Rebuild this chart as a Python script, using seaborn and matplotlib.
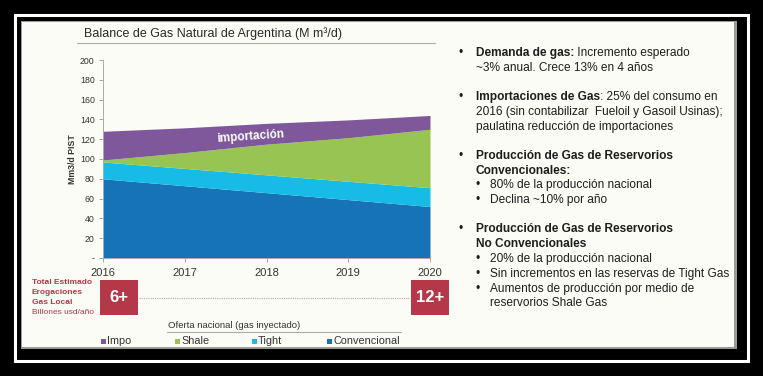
import numpy as np
import pandas as pd
import matplotlib
matplotlib.use("Agg")
import matplotlib.pyplot as plt
import seaborn as sns
from matplotlib.patches import Rectangle

# data (M m3/d)
years = [2016, 2017, 2018, 2019, 2020]
convencional = [80, 73, 66, 59, 52]
tight = [17, 17.5, 18, 18.5, 19]
shale = [2, 16, 31, 44, 59]
impo = [29, 25, 21, 18, 14]
series_names = ["Convencional", "Tight", "Shale", "Impo"]
series_colors = ["#1673b6", "#17bce6", "#98c454", "#7f589b"]
y_ticks = [0, 20, 40, 60, 80, 100, 120, 140, 160, 180, 200]
y_tick_labels = ["-", "20", "40", "60", "80", "100", "120", "140", "160", "180", "200"]

df = pd.DataFrame({"year": years, "Convencional": convencional, "Tight": tight,
                   "Shale": shale, "Impo": impo})

sns.set_style("white")
plt.rcParams["font.family"] = ["Liberation Sans", "DejaVu Sans"]

W, H = 763, 376
fig = plt.figure(figsize=(W / 100, H / 100), dpi=100)
fig.patch.set_facecolor("black")

def fx(x):
    return x / W

def fy(y):
    return 1 - y / H

# slide frame (kept behind the axes)
fig.add_artist(Rectangle((fx(15), fy(361)), fx(733), 346 / H, transform=fig.transFigure,
                         fill=False, edgecolor="white", lw=2.2, zorder=-10))
fig.add_artist(Rectangle((fx(21), fy(349)), fx(716), 328 / H, transform=fig.transFigure,
                         facecolor="#9a9a94", edgecolor="none", zorder=-10))
fig.add_artist(Rectangle((fx(22), fy(347)), fx(712), 325 / H, transform=fig.transFigure,
                         facecolor="#fbfcf6", edgecolor="none", zorder=-9))

# stacked area chart
ax = fig.add_axes([fx(103), fy(258), fx(430 - 103), (258 - 60) / H])
ax.set_facecolor("none")
ax.stackplot(df["year"], [df[c] for c in series_names], colors=series_colors, lw=0)
ax.set_xlim(2016, 2020)
ax.set_ylim(0, 200)
ax.set_xticks(years)
ax.set_xticklabels([str(y) for y in years], fontsize=8, color="#333333")
ax.set_yticks(y_ticks)
ax.set_yticklabels(y_tick_labels, fontsize=6.3, color="#333333")
ax.tick_params(axis="both", length=3, width=0.6, color="#999999", direction="out",
               left=True, bottom=True, pad=3)
ax.tick_params(axis="x", pad=4)
for s in ["top", "right"]:
    ax.spines[s].set_visible(False)
for s in ["left", "bottom"]:
    ax.spines[s].set_color("#aaaaaa")
    ax.spines[s].set_linewidth(0.7)
ax.set_ylabel("Mm3/d PIST", fontsize=6.3, fontweight="bold", color="#333333", labelpad=2)
ax.text(2017.8, 123, "importación", color="white", fontsize=8.5, fontweight="bold",
        rotation=4, ha="center", va="center")

# title with underline
fig.text(fx(84), fy(34), "Balance de Gas Natural de Argentina (M m³/d)", fontsize=9,
         color="#2a2a2a", va="center")
fig.add_artist(plt.Line2D([fx(77), fx(435)], [fy(43), fy(43)], color="#aaaaaa", lw=0.8))

# cost boxes
red = "#b53848"
for x0, lab in [(100, "6+"), (411, "12+")]:
    fig.add_artist(Rectangle((fx(x0), fy(315)), fx(38), 35 / H, transform=fig.transFigure,
                             facecolor=red, edgecolor="none"))
    fig.text(fx(x0 + 19), fy(297.5), lab, color="white", fontsize=12, fontweight="bold",
             ha="center", va="center")
fig.add_artist(plt.Line2D([fx(139), fx(410)], [fy(297.5), fy(297.5)], color="#c9a0a0",
                          lw=0.8, ls=(0, (1, 1))))
for i, (t, w) in enumerate([("Total Estimado", "bold"), ("Erogaciones", "bold"),
                            ("Gas Local", "bold"), ("Billones usd/año", "normal")]):
    fig.text(fx(32), fy(283 + 9.8 * i), t, color=red, fontsize=6, fontweight=w, va="center")

# legend
fig.text(fx(168), fy(325), "Oferta nacional (gas inyectado)", fontsize=6.8, color="#333333",
         va="center")
fig.add_artist(plt.Line2D([fx(167), fx(401)], [fy(332), fy(332)], color="#aaaaaa", lw=0.8))
for x0, name, col in [(101, "Impo", series_colors[3]), (175, "Shale", series_colors[2]),
                      (252, "Tight", series_colors[1]), (327, "Convencional", series_colors[0])]:
    fig.add_artist(Rectangle((fx(x0), fy(343.5)), fx(4.5), 4.5 / H, transform=fig.transFigure,
                             facecolor=col, edgecolor="none"))
    fig.text(fx(x0 + 6), fy(341.5), name, fontsize=7.8, color="#333333", va="center")

# bullet text on the right
fs = 8.6
col = "#1e1e1e"

def bullet(y, parts, x_b=458, x_t=476):
    fig.text(fx(x_b), fy(y), "•", fontsize=fs, color=col, va="center")
    x = x_t
    for txt, w in parts:
        t = fig.text(fx(x), fy(y), txt, fontsize=fs, fontweight=w, color=col, va="center")
        fig.canvas.draw()
        bb = t.get_window_extent()
        x += bb.width

def line(y, txt, w="normal", x_t=476):
    fig.text(fx(x_t), fy(y), txt, fontsize=fs, fontweight=w, color=col, va="center")

bullet(53, [("Demanda de gas:", "bold"), (" Incremento esperado", "normal")])
line(68, "~3% anual. Crece 13% en 4 años")
bullet(97, [("Importaciones de Gas", "bold"), (": 25% del consumo en", "normal")])
line(112, "2016 (sin contabilizar  Fueloil y Gasoil Usinas);")
line(127, "paulatina reducción de importaciones")
bullet(156, [("Producción de Gas de Reservorios", "bold")])
line(171, "Convencionales:", "bold")
bullet(185, [("80% de la producción nacional", "normal")], 476, 490)
bullet(200, [("Declina ~10% por año", "normal")], 476, 490)
bullet(229, [("Producción de Gas de Reservorios", "bold")])
line(244, "No Convencionales", "bold")
bullet(259, [("20% de la producción nacional", "normal")], 476, 490)
bullet(274, [("Sin incrementos en las reservas de Tight Gas", "normal")], 476, 490)
bullet(289, [("Aumentos de producción por medio de", "normal")], 476, 490)
line(303, "reservorios Shale Gas", x_t=490)

plt.savefig("out.png", dpi=100, facecolor=fig.get_facecolor())
